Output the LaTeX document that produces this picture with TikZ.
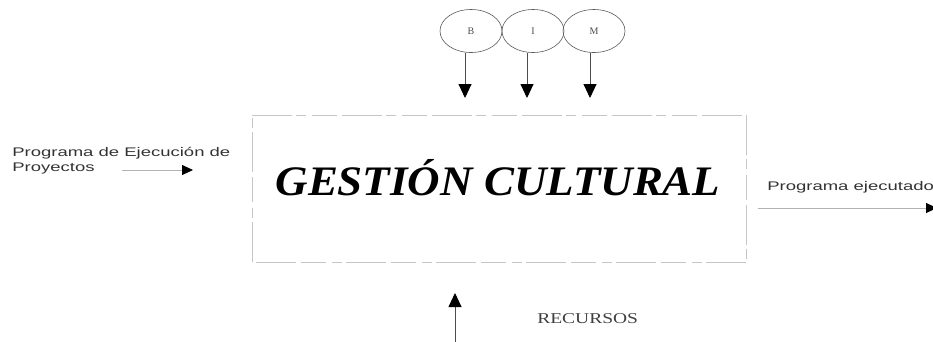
\documentclass[tikz,border=0pt]{standalone}
\usepackage{fontspec}
\setmainfont{Liberation Serif}
\newfontfamily\arialfont{Liberation Sans}
\usetikzlibrary{arrows.meta,shapes.geometric}
\tikzset{
  bim/.style={draw=gray!70!black, line width=0.6pt, ellipse, minimum width=62pt, minimum height=43pt, inner sep=0pt, font=\fontsize{10}{11}\selectfont, text=gray!60!black},
  flow/.style={draw=gray!60!black, line width=0.9pt, -{Triangle[length=14pt,width=13pt,color=black]}},
  sideflow/.style={draw=gray!60, line width=0.8pt, -{Triangle[length=11pt,width=10pt,color=black]}},
  boxline/.style={draw=gray!45, line width=0.8pt, dash pattern=on 40pt off 4pt on 10pt off 6pt on 25pt off 5pt},
  smalltext/.style={font=\arialfont\fontsize{12.5}{14}\selectfont, text=gray!40!black, xscale=1.48, inner sep=0pt, anchor=base west},
}
\begin{document}
\begin{tikzpicture}[x=1pt,y=-1pt]
\useasboundingbox (0,0) rectangle (933,341);
\clip (0,0) rectangle (933,341);
% main box
\coordinate (tl) at (252,115);
\coordinate (tr) at (746,115);
\coordinate (br) at (746,262);
\coordinate (bl) at (252,262);
\draw[boxline] (tl) -- (tr);
\draw[boxline] (tr) -- (br);
\draw[boxline] (br) -- (bl);
\draw[boxline] (bl) -- (tl);
\node[font=\bfseries\itshape\fontsize{42}{44}\selectfont, xscale=1.07, inner sep=0pt] (gc) at (498,178) {GESTIÓN CULTURAL};
% ellipses
\node[bim] (B) at (471,31) {B};
\node[bim] (I) at (533,31) {I};
\node[bim] (M) at (594,31) {M};
\coordinate (bt) at (0,98);
\draw[flow] ([xshift=-6pt]B.south) -- ([xshift=-6pt]B.south |- bt);
\draw[flow] ([xshift=-6pt]I.south) -- ([xshift=-6pt]I.south |- bt);
\draw[flow] ([xshift=-4pt]M.south) -- ([xshift=-4pt]M.south |- bt);
% left input
\node[smalltext] (in1) at (12,156) {Programa de Ejecución de};
\node[smalltext] (in2) at (12,171) {Proyectos};
\coordinate (ls) at (122,170);
\coordinate (le) at (193,170);
\draw[sideflow] (ls) -- (le);
% right output
\node[smalltext] (out) at (767,190) {Programa ejecutado};
\coordinate (rs) at (758,208);
\coordinate (re) at (937,208);
\draw[sideflow] (rs) -- (re);
% resources
\coordinate (us) at (455,345);
\coordinate (ue) at (455,293);
\draw[flow] (us) -- (ue);
\node[font=\fontsize{15}{16}\selectfont, text=gray!50!black, xscale=1.3, inner sep=0pt, anchor=base west] (rec) at (537,323) {RECURSOS};
\end{tikzpicture}
\end{document}
